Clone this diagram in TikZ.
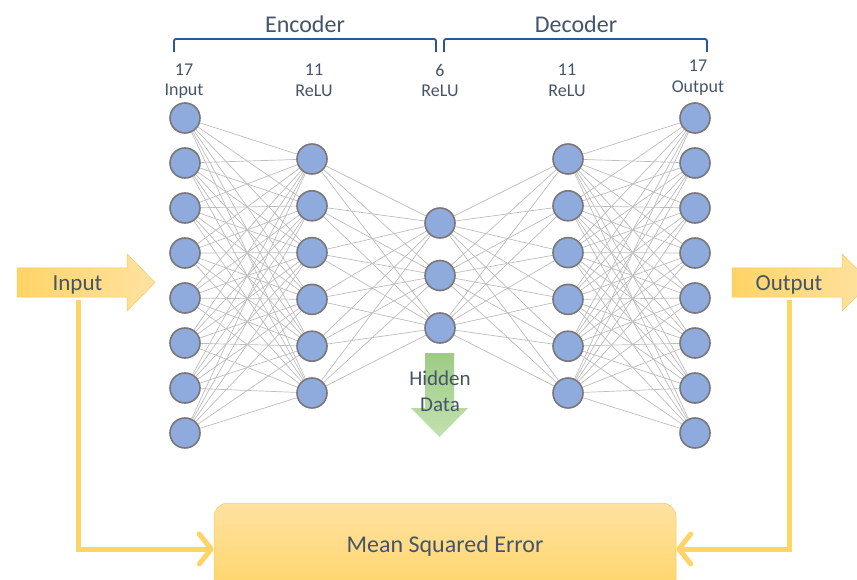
\documentclass[tikz,border=0pt]{standalone}
\usepackage{fontspec}
\setmainfont{Carlito}
\usetikzlibrary{arrows.meta}
\definecolor{nodefill}{HTML}{8FAADC}
\definecolor{nodeedge}{HTML}{787878}
\definecolor{edgegray}{HTML}{BDBDBD}
\definecolor{txt}{HTML}{44546A}
\definecolor{bracecol}{HTML}{2F5597}
\definecolor{gold}{HTML}{FFD466}
\definecolor{goldlight}{HTML}{FFE2A2}
\definecolor{goldedge}{HTML}{F5C85C}
\definecolor{gdark}{HTML}{93C677}
\definecolor{glight}{HTML}{BCDDA8}
\pgfdeclarelayer{background}
\pgfsetlayers{background,main}
\begin{document}
\begin{tikzpicture}[x=1pt,y=-1pt,
  neuron/.style={circle,draw=nodeedge,fill=nodefill,line width=1.6pt,minimum size=30pt,inner sep=0pt},
  link/.style={draw=edgegray,line width=0.7pt},
  lbl/.style={text=txt,font=\fontsize{18}{20}\selectfont,inner sep=0pt},
  head/.style={text=txt,font=\fontsize{24}{28}\selectfont,inner sep=0pt},
  bigtxt/.style={text=txt,font=\fontsize{23}{27}\selectfont,inner sep=0pt},
  bracket/.style={draw=bracecol,line width=1.8pt,rounded corners=2pt},
  feed/.style={draw=gold,line width=5pt,-{Straight Barb[length=12pt,width=30pt,round]}},
]
\useasboundingbox (0,0) rectangle (857,580);
\clip (0,0) rectangle (857,580);

% neurons
\foreach \y [count=\i] in {118,163,208,253,298,343,388,433}
  \node[neuron] (a\i) at (185,\y) {};
\foreach \y [count=\i] in {159,205.8,252.6,299.4,346.2,393}
  \node[neuron] (b\i) at (312,\y) {};
\foreach \y [count=\i] in {223,275.5,328}
  \node[neuron] (c\i) at (440,\y) {};
\foreach \y [count=\i] in {159,205.8,252.6,299.4,346.2,393}
  \node[neuron] (d\i) at (568,\y) {};
\foreach \y [count=\i] in {118,163,208,253,298,343,388,433}
  \node[neuron] (e\i) at (695,\y) {};

\begin{pgfonlayer}{background}
  \foreach \i in {1,...,8} \foreach \j in {1,...,6} \draw[link] (a\i) -- (b\j);
  \foreach \i in {1,...,6} \foreach \j in {1,...,3} \draw[link] (b\i) -- (c\j);
  \foreach \i in {1,...,3} \foreach \j in {1,...,6} \draw[link] (c\i) -- (d\j);
  \foreach \i in {1,...,6} \foreach \j in {1,...,8} \draw[link] (d\i) -- (e\j);
\end{pgfonlayer}

% brackets and headings
\draw[bracket] (174,52) -- (174,39) -- (436,39) -- (436,52);
\draw[bracket] (444,52) -- (444,39) -- (707,39) -- (707,52);
\node[head] (enc) at (305,24) {Encoder};
\node[head] (dec) at (576,24) {Decoder};

% layer labels
\node[lbl] (n1) at (184,70) {17};
\node[lbl] (t1) at (184,91) {Input};
\node[lbl] (n2) at (314,70) {11};
\node[lbl] (t2) at (314,91) {ReLU};
\node[lbl] (n3) at (440,70) {6};
\node[lbl] (t3) at (440,91) {ReLU};
\node[lbl] (n4) at (567,70) {11};
\node[lbl] (t4) at (567,91) {ReLU};
\node[lbl] (n5) at (698,66) {17};
\node[lbl] (t5) at (698,88) {Output};

% input / output arrows
\shadedraw[draw=goldedge,line width=0.5pt,left color=gold,right color=goldlight]
  (17,268) -- (127,268) -- (127,254) -- (155,282.5) -- (127,311) -- (127,297) -- (17,297) -- cycle;
\node[bigtxt] (inTxt) at (77.5,285) {Input};
\shadedraw[draw=goldedge,line width=0.5pt,left color=gold,right color=goldlight]
  (732,268) -- (842,268) -- (842,254) -- (871,282.5) -- (842,311) -- (842,297) -- (732,297) -- cycle;
\node[bigtxt] (outTxt) at (789,285) {Output};

% hidden data arrow
\shade[top color=gdark,bottom color=glight,opacity=0.9]
  (425,353) -- (454,353) -- (454,408) -- (468,408) -- (439.5,437) -- (411,408) -- (425,408) -- cycle;
\node[text=txt,font=\fontsize{21}{26}\selectfont,align=center,inner sep=0pt] (hid) at (440,391) {Hidden\\Data};

% MSE box
\node[draw=goldedge,line width=0.5pt,rounded corners=14pt,top color=goldlight,bottom color=gold,
      minimum width=462pt,minimum height=92pt] (mse) at (445,549) {};
\node[text=txt,font=\fontsize{24}{28}\selectfont,inner sep=0pt] (mseTxt) at (445,546) {Mean Squared Error};

\coordinate (inFoot) at (78,300);
\coordinate (outFoot) at (789,300);
\draw[feed] (inFoot) |- (mse.west);
\draw[feed] (outFoot) |- (mse.east);
\end{tikzpicture}
\end{document}
